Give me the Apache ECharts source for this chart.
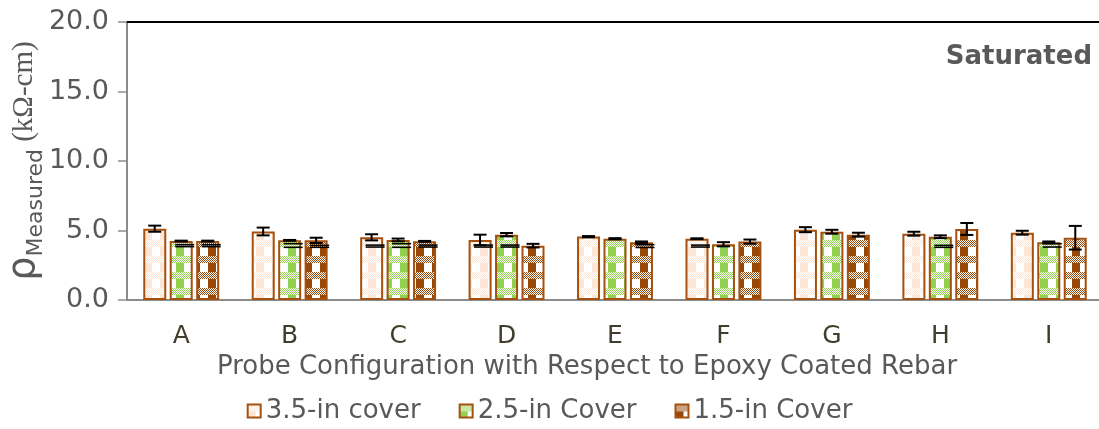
<!DOCTYPE html>
<html>
<head>
<meta charset="utf-8">
<script src="https://cdn.jsdelivr.net/npm/echarts@6/dist/echarts.min.js"></script>
<style>
html, body { margin: 0; padding: 0; background: #fff; }
#main { width: 1099px; height: 429px; }
</style>
</head>
<body>
<div id="main"></div>
<script>
// values (kOhm-cm)
var categories = ['A', 'B', 'C', 'D', 'E', 'F', 'G', 'H', 'I'];
var seriesNames = ['3.5-in cover', '2.5-in Cover', '1.5-in Cover'];

var cover35 = [5.13, 4.93, 4.51, 4.32, 4.56, 4.41, 5.06, 4.77, 4.84];
var cover35Err = [0.22, 0.28, 0.22, 0.38, 0.04, 0.03, 0.18, 0.14, 0.14];
var cover25 = [4.24, 4.29, 4.32, 4.70, 4.41, 4.01, 4.91, 4.55, 4.15];
var cover25Err = [0.03, 0.03, 0.10, 0.12, 0.04, 0.15, 0.14, 0.10, 0.06];
var cover15 = [4.24, 4.29, 4.22, 3.91, 4.15, 4.20, 4.70, 5.11, 4.48];
var cover15Err = [0.03, 0.19, 0.03, 0.13, 0.06, 0.15, 0.14, 0.43, 0.85];

// black dash markers drawn over some bars
var mark35 = [null, null, 3.88, 3.88, null, 3.88, null, null, null];
var mark35Err = [0, 0, 0.07, 0.07, 0, 0.07, 0, 0, 0];
var mark25 = [3.91, 3.92, 3.92, 3.88, null, null, null, 3.86, 3.93];
var mark25Err = [0.07, 0.13, 0.13, 0.07, 0, 0, 0, 0.07, 0.12];
var mark15 = [3.91, 3.86, 3.88, null, 3.88, null, null, null, null];
var mark15Err = [0.07, 0.07, 0.07, 0, 0.10, 0, 0, 0, 0];

var BAR_W = 23;
var BAR_STEP = 26.5;
var EDGE = '#a5500f';
var TXT = '#595959';
var FONT = 'DejaVu Sans';

function makePattern(color) {
	var c = document.createElement('canvas');
	c.width = 16;
	c.height = 16;
	var g = c.getContext('2d');
	g.fillStyle = '#ffffff';
	g.fillRect(0, 0, 16, 16);
	g.fillStyle = color;
	for (var y = 0; y < 7; y++) {
		for (var x = 0; x < 16; x++) {
			if ((x + y) % 2 == 0) g.fillRect(x, y, 1, 1);
		}
	}
	g.fillRect(0, 7, 8, 9);
	return { image: c, repeat: 'repeat' };
}

var fills = [makePattern('#fde6d6'), makePattern('#92d050'), makePattern('#984807')];

function pairs(vals, errs) {
	var out = [];
	vals.forEach(function(v, i) {
		if (v != null) out.push([i, v, errs[i]]);
	});
	return out;
}

function errorBars(slot) {
	return function(params, api) {
		var i = api.value(0), v = api.value(1), e = api.value(2);
		var hi = api.coord([i, v + e]);
		var lo = api.coord([i, v - e]);
		var x = hi[0] + (slot - 1) * BAR_STEP;
		var st = { stroke: '#000', lineWidth: 2 };
		return {
			type: 'group',
			children: [
				{ type: 'line', shape: { x1: x, y1: hi[1], x2: x, y2: lo[1] }, style: st },
				{ type: 'line', shape: { x1: x - 6.5, y1: hi[1], x2: x + 6.5, y2: hi[1] }, style: st },
				{ type: 'line', shape: { x1: x - 6.5, y1: lo[1], x2: x + 6.5, y2: lo[1] }, style: st }
			]
		};
	};
}

function dashMarks(slot) {
	return function(params, api) {
		var i = api.value(0), v = api.value(1), e = api.value(2);
		var hi = api.coord([i, v + e]);
		var lo = api.coord([i, v - e]);
		var x = hi[0] + (slot - 1) * BAR_STEP + 3.5;
		var st = { stroke: '#000', lineWidth: 1.6 };
		return {
			type: 'group',
			children: [
				{ type: 'line', shape: { x1: x - 9.5, y1: hi[1], x2: x + 9.5, y2: hi[1] }, style: st },
				{ type: 'line', shape: { x1: x - 9.5, y1: lo[1], x2: x + 9.5, y2: lo[1] }, style: st }
			]
		};
	};
}

var barValues = [cover35, cover25, cover15];
var errValues = [cover35Err, cover25Err, cover15Err];
var markValues = [mark35, mark25, mark15];
var markErrs = [mark35Err, mark25Err, mark15Err];

var series = [];
barValues.forEach(function(vals, k) {
	series.push({
		name: seriesNames[k],
		type: 'bar',
		data: vals,
		barWidth: BAR_W,
		barGap: '15%',
		itemStyle: { color: fills[k], borderColor: EDGE, borderWidth: 2 },
		emphasis: { disabled: true },
		z: 2
	});
});
barValues.forEach(function(vals, k) {
	series.push({
		type: 'custom',
		renderItem: errorBars(k),
		data: pairs(vals, errValues[k]),
		silent: true,
		z: 5
	});
	series.push({
		type: 'custom',
		renderItem: dashMarks(k),
		data: pairs(markValues[k], markErrs[k]),
		silent: true,
		z: 6
	});
});

var myChart = echarts.init(document.getElementById('main'));
var option = {
	animation: false,
	grid: { left: 127, right: -4, top: 22, bottom: 129, outerBoundsMode: 'none', containLabel: false },
	title: {
		text: 'Saturated',
		right: 2,
		top: 39,
		textStyle: { fontFamily: FONT, fontSize: 26, fontWeight: 'bold', color: TXT }
	},
	legend: {
		data: seriesNames,
		bottom: 0,
		left: 'center',
		icon: 'rect',
		itemWidth: 13,
		itemHeight: 13,
		itemGap: 38,
		textStyle: { fontFamily: FONT, fontSize: 26, color: TXT },
		itemStyle: { borderColor: EDGE, borderWidth: 2 }
	},
	xAxis: [{
		type: 'category',
		data: categories,
		name: 'Probe Configuration with Respect to Epoxy Coated Rebar',
		nameLocation: 'middle',
		nameGap: 54,
		nameMoveOverlap: false,
		nameTextStyle: { fontFamily: FONT, fontSize: 26, color: TXT, padding: [0, 56, 0, 0] },
		axisLine: { lineStyle: { color: '#8c8c8c', width: 2 } },
		axisTick: { show: false },
		axisLabel: { fontFamily: FONT, fontSize: 25, color: '#403d2c', margin: 24 }
	}, {
		type: 'category',
		data: categories,
		position: 'top',
		axisLine: { lineStyle: { color: '#000', width: 2 } },
		axisTick: { show: false },
		axisLabel: { show: false }
	}],
	yAxis: {
		type: 'value',
		min: 0,
		max: 20,
		interval: 5,
		name: '{rho|ρ}{sub|Measured}{unit| (kΩ-cm)}',
		nameLocation: 'middle',
		nameRotate: 90,
		nameGap: 80,
		nameMoveOverlap: false,
		nameTextStyle: {
			color: TXT,
			rich: {
				rho: { fontFamily: FONT, fontSize: 38, color: TXT, lineHeight: 46 },
				sub: { fontFamily: FONT, fontSize: 22, color: TXT, padding: [24, 0, 0, 0], lineHeight: 46 },
				unit: { fontFamily: 'Liberation Serif', fontSize: 29, color: TXT, lineHeight: 46 }
			}
		},
		axisLine: { show: true, lineStyle: { color: '#8c8c8c', width: 2 } },
		axisTick: { show: true, length: 9, lineStyle: { color: '#8c8c8c', width: 1.5 } },
		splitLine: { show: false },
		axisLabel: {
			fontFamily: FONT,
			fontSize: 27,
			color: TXT,
			margin: 18,
			formatter: function(v) { return v.toFixed(1); }
		}
	},
	series: series
};
myChart.setOption(option);
</script>
</body>
</html>
